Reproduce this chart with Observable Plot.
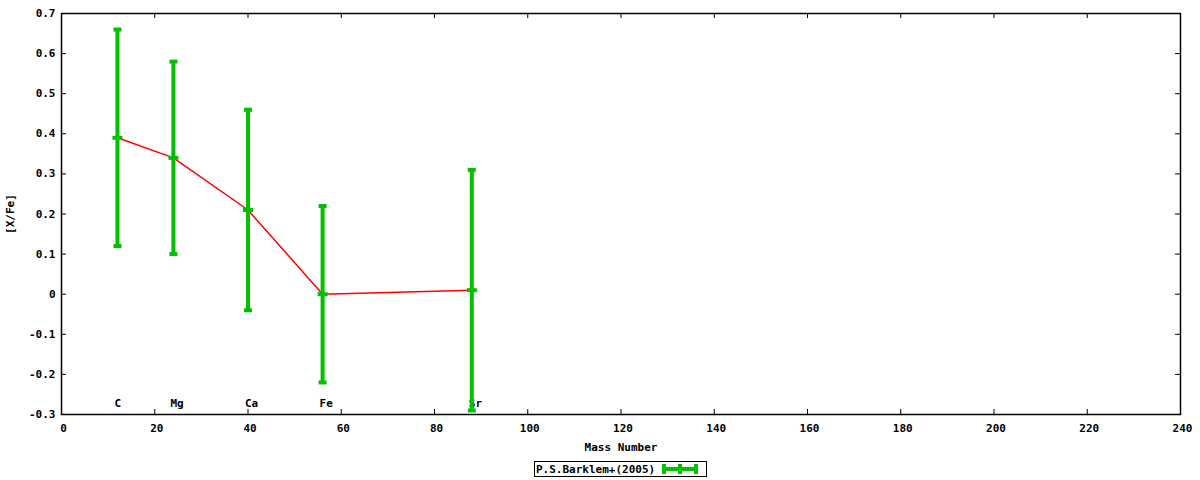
<!DOCTYPE html>
<html>
<head>
<meta charset="utf-8">
<script src="https://cdn.jsdelivr.net/npm/d3@7"></script>
<script src="https://cdn.jsdelivr.net/npm/@observablehq/plot@0.6"></script>
<style>
  body { margin: 0; background: #fff; }
  #wrap { position: relative; width: 1200px; height: 480px; background: #fff; }
  #legend {
    position: absolute; left: 534px; top: 461px; width: 171px; height: 14px;
    border: 1px solid #000; box-sizing: content-box;
    font: bold 11px "DejaVu Sans Mono", monospace; color: #000;
    display: flex; align-items: center; white-space: nowrap;
  }
  #legend span { padding-left: 1px; }
  #legend svg { margin-left: 6px; }
</style>
</head>
<body>
<div id="wrap"></div>
<script>
// ---- data ----
const elements = ["C", "Mg", "Ca", "Fe", "Sr"];
const massNumbers = [12, 24, 40, 56, 88];
const xFe = [0.39, 0.34, 0.21, 0.00, 0.01];
const xFeErr = [0.27, 0.24, 0.25, 0.22, 0.30];
const xTicks = [0, 20, 40, 60, 80, 100, 120, 140, 160, 180, 200, 220, 240];
const yTicks = [-0.3, -0.2, -0.1, 0, 0.1, 0.2, 0.3, 0.4, 0.5, 0.6, 0.7];
const seriesName = "P.S.Barklem+(2005)";
const labelY = -0.272;

const data = elements.map((e, i) => ({
  el: e, mass: massNumbers[i], v: xFe[i],
  lo: xFe[i] - xFeErr[i], hi: xFe[i] + xFeErr[i]
}));

const green = "#00c000";
const capSymbol = { draw(c) { c.moveTo(-4, -2); c.lineTo(4, -2); c.lineTo(4, 2); c.lineTo(-4, 2); c.closePath(); } };
const ptSymbol = { draw(c) { c.moveTo(-5, -2); c.lineTo(5, -2); c.lineTo(5, 2); c.lineTo(-5, 2); c.closePath(); } };

const W = 1200, H = 452, mT = 13, mB = 38, mL = 61, mR = 20;
const innerH = H - mT - mB, innerW = W - mL - mR;
const tk = 5;
const fmtY = d => Math.abs(d) < 1e-9 ? "0" : d.toFixed(1);

const chart = Plot.plot({
  width: W, height: H,
  marginTop: mT, marginBottom: mB, marginLeft: mL, marginRight: mR,
  style: { fontFamily: "'DejaVu Sans Mono', monospace", fontWeight: "bold", fontSize: "11px", color: "#000", background: "#fff" },
  x: { domain: [0, 240] },
  y: { domain: [-0.3, 0.7] },
  marks: [
    Plot.axisX(xTicks, { tickSize: 0, tickPadding: 10, tickFormat: d => String(d), dx: 2, label: "Mass Number", labelAnchor: "center", labelOffset: 36, labelArrow: false }),
    Plot.axisY(yTicks, { tickSize: 0, tickPadding: 6, tickFormat: fmtY, label: "[X/Fe]", labelAnchor: "center", labelOffset: 55, labelArrow: false }),
    // inward ticks on all four sides
    Plot.tickX(xTicks, { x: d => d, insetTop: innerH - tk, stroke: "#000" }),
    Plot.tickX(xTicks, { x: d => d, insetBottom: innerH - tk, stroke: "#000" }),
    Plot.tickY(yTicks, { y: d => d, insetRight: innerW - tk, stroke: "#000" }),
    Plot.tickY(yTicks, { y: d => d, insetLeft: innerW - tk, stroke: "#000" }),
    Plot.frame({ stroke: "#000", strokeWidth: 1.5 }),
    // element labels
    Plot.text(data, { x: "mass", y: () => labelY, text: "el", textAnchor: "start", dx: -3, fill: "#000" }),
    // connecting line
    Plot.line(data, { x: "mass", y: "v", stroke: "#ff0000", strokeWidth: 1.5 }),
    // error bars
    Plot.ruleX(data, { x: "mass", y1: "lo", y2: "hi", stroke: green, strokeWidth: 4 }),
    Plot.dot(data, { x: "mass", y: "hi", symbol: capSymbol, fill: green, stroke: "none" }),
    Plot.dot(data, { x: "mass", y: "lo", symbol: capSymbol, fill: green, stroke: "none" }),
    Plot.dot(data, { x: "mass", y: "v", symbol: ptSymbol, fill: green, stroke: "none" })
  ]
});

const wrap = document.getElementById("wrap");
wrap.appendChild(chart);

const legend = document.createElement("div");
legend.id = "legend";
legend.innerHTML = `<span>${seriesName}</span>` +
  `<svg width="38" height="12" viewBox="0 0 38 12">` +
  `<rect x="1" y="4" width="36" height="4" fill="${green}"/>` +
  `<rect x="1" y="1" width="4" height="10" fill="${green}"/>` +
  `<rect x="33" y="1" width="4" height="10" fill="${green}"/>` +
  `<rect x="17" y="1" width="4" height="10" fill="${green}"/>` +
  `</svg>`;
wrap.appendChild(legend);
</script>
</body>
</html>
